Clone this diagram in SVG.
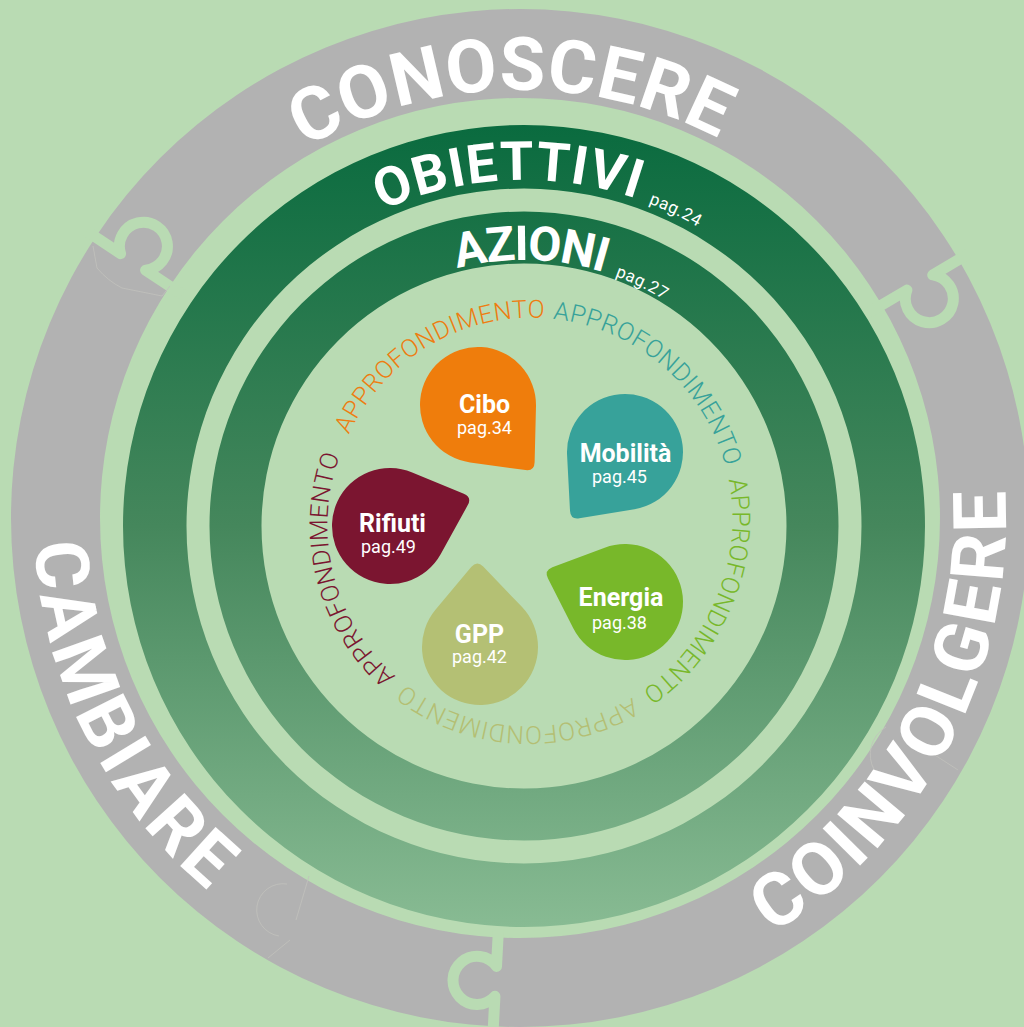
<svg xmlns="http://www.w3.org/2000/svg" xmlns:xlink="http://www.w3.org/1999/xlink" width="1024" height="1027" viewBox="0 0 1024 1027">
  <defs>
    <linearGradient id="ringGrad" gradientUnits="userSpaceOnUse" x1="0" y1="125" x2="0" y2="927">
      <stop offset="0" stop-color="#0a6b3f"/>
      <stop offset="0.5" stop-color="#45875c"/>
      <stop offset="1" stop-color="#88bb93"/>
    </linearGradient>
    <!-- baseline circles for the curved labels -->
    <path id="arcTop" d="M92,518 A428,428 0 1 1 948,518 A428,428 0 1 1 92,518"/>
    <path id="arcLow" d="M520,32 A486,486 0 1 0 520,1004 A486,486 0 1 0 520,32"/>
    <path id="arcObiettivi" d="M178,526 A346,346 0 1 1 870,526 A346,346 0 1 1 178,526"/>
    <path id="arcAzioni" d="M258,526 A266,266 0 1 1 790,526 A266,266 0 1 1 258,526"/>
    <path id="arcInner" d="M348.6,435.5 A201,201 0 1 1 711.4,608.5 A201,201 0 1 1 348.6,435.5"/>
    <!-- drop shape, tip pointing along +x -->
    <path id="drop" d="M38.67,43.23 A58,58 0 1 1 38.67,-43.23 L80.3,-6 Q87,0 80.3,6 Z"/>
    <!-- puzzle joint across the grey ring, local x = radial direction -->
    <path id="joint" d="M405,0 L449,0 A24,24 0 1 0 479,0 L520,0"/>
    <style>
      .gray { fill: #b2b2b2; fill-rule: evenodd; }
      .ring { fill: url(#ringGrad); fill-rule: evenodd; }
      .joint { fill: none; stroke: #b9dbb3; stroke-width: 11; stroke-linejoin: round; }
      .ghost { fill: none; stroke: #c2c2bc; stroke-width: 0.8; }
      .big { font-family: Roboto, "Liberation Sans", sans-serif; font-weight: 700; fill: #ffffff; }
      .pag { font-family: Roboto, "Liberation Sans", sans-serif; font-weight: 400; fill: #ffffff; }
      .appro { font-family: Roboto, "Liberation Sans", sans-serif; font-weight: 300; font-size: 25px; letter-spacing: 0.4px; }
      .dropTitle { font-family: Roboto, "Liberation Sans", sans-serif; font-weight: 700; font-size: 25px; fill: #ffffff; text-anchor: middle; }
      .dropPag { font-family: Roboto, "Liberation Sans", sans-serif; font-weight: 400; font-size: 18px; fill: #ffffff; text-anchor: middle; }
    </style>
  </defs>

  <rect width="1024" height="1027" fill="#b9dbb3"/>

  <!-- outer grey puzzle ring -->
  <g id="outer-ring">
    <path class="gray" d="M11,518 A509,509 0 1 1 1029,518 A509,509 0 1 1 11,518 Z M100,518 A420,420 0 1 0 940,518 A420,420 0 1 0 100,518 Z"/>
    <g transform="translate(520,518)">
      <use href="#joint" class="joint" transform="rotate(213.5)"/>
      <use href="#joint" class="joint" transform="rotate(329.5)"/>
      <use href="#joint" class="joint" transform="rotate(93)"/>
    </g>
    <path class="ghost" d="M93,246 L97,268 Q108,281 122,288 L162,296 L170,286"/>
    <path class="ghost" d="M309,876 L296,920 M290,940 L268,958 M287,884 A24,24 0 1 0 279,936"/>
    <path class="ghost" d="M886,727 A24,24 0 0 0 918,782 M924,748 L958,770"/>
    <text class="big" font-size="74" letter-spacing="0.5"><textPath href="#arcTop" startOffset="663" text-anchor="middle">CONOSCERE</textPath></text>
    <text class="big" font-size="74" letter-spacing="4"><textPath href="#arcLow" startOffset="990" text-anchor="middle">CAMBIARE</textPath></text>
    <text class="big" font-size="74" letter-spacing="3.5"><textPath href="#arcLow" startOffset="2056" text-anchor="middle">COINVOLGERE</textPath></text>
  </g>

  <!-- green rings -->
  <g id="obiettivi">
    <path class="ring" d="M123,526 A401,401 0 1 1 925,526 A401,401 0 1 1 123,526 Z M186.5,526 A337.5,337.5 0 1 0 861.5,526 A337.5,337.5 0 1 0 186.5,526 Z"/>
    <text class="big" font-size="54" letter-spacing="1"><textPath href="#arcObiettivi" startOffset="397">OBIETTIVI<tspan class="pag" font-size="17" dx="12" letter-spacing="0.5">pag.24</tspan></textPath></text>
  </g>
  <g id="azioni">
    <path class="ring" d="M209.5,526 A314.5,314.5 0 1 1 838.5,526 A314.5,314.5 0 1 1 209.5,526 Z M261.5,526 A262.5,262.5 0 1 0 786.5,526 A262.5,262.5 0 1 0 261.5,526 Z"/>
    <text class="big" font-size="48" letter-spacing="-1.5"><textPath href="#arcAzioni" startOffset="350">AZIONI<tspan class="pag" font-size="17" dx="13" letter-spacing="0.5">pag.27</tspan></textPath></text>
  </g>

  <!-- APPROFONDIMENTO ring -->
  <g id="approfondimento">
    <text class="appro" fill="#ee7d11"><textPath href="#arcInner" startOffset="1">APPROFONDIMENTO</textPath></text>
    <text class="appro" fill="#37a29a"><textPath href="#arcInner" startOffset="251">APPROFONDIMENTO</textPath></text>
    <text class="appro" fill="#78b82a"><textPath href="#arcInner" startOffset="506">APPROFONDIMENTO</textPath></text>
    <text class="appro" fill="#b4bf73"><textPath href="#arcInner" startOffset="759">APPROFONDIMENTO</textPath></text>
    <text class="appro" fill="#7b1530"><textPath href="#arcInner" startOffset="1013">APPROFONDIMENTO</textPath></text>
  </g>

  <!-- topic drops -->
  <g id="cibo">
    <use href="#drop" fill="#ef7d0c" transform="translate(478,405) rotate(49.6)"/>
    <text class="dropTitle" x="484.5" y="413">Cibo</text>
    <text class="dropPag" x="484.5" y="434">pag.34</text>
  </g>
  <g id="mobilita">
    <use href="#drop" fill="#37a29a" transform="translate(625,452) rotate(128.8)"/>
    <text class="dropTitle" x="625.5" y="462">Mobilità</text>
    <text class="dropPag" x="619.5" y="483">pag.45</text>
  </g>
  <g id="energia">
    <use href="#drop" fill="#78b82a" transform="translate(625,602) rotate(201.3)"/>
    <text class="dropTitle" x="621" y="606">Energia</text>
    <text class="dropPag" x="619.5" y="629">pag.38</text>
  </g>
  <g id="gpp">
    <use href="#drop" fill="#b4c074" transform="translate(480,647) rotate(268)"/>
    <text class="dropTitle" x="479.5" y="643">GPP</text>
    <text class="dropPag" x="479.5" y="663">pag.42</text>
  </g>
  <g id="rifiuti">
    <use href="#drop" fill="#7b1530" transform="translate(390,526) rotate(340.7)"/>
    <text class="dropTitle" x="392.5" y="532">Rifiuti</text>
    <text class="dropPag" x="388.5" y="553">pag.49</text>
  </g>
</svg>
